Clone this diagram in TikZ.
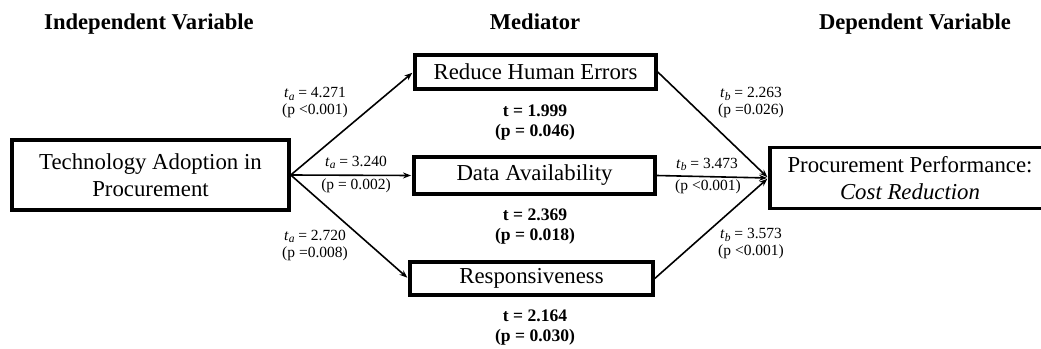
\documentclass[tikz,border=0pt]{standalone}
\usepackage{fontspec}
\setmainfont{Liberation Serif}
\usetikzlibrary{arrows.meta}
\newcommand{\tsb}[1]{\textit{t}\raisebox{-0.3ex}{\fontsize{11.5}{12}\selectfont\textit{#1}}}
\begin{document}
\begin{tikzpicture}[x=1pt,y=-1pt,
 box/.style={draw,line width=3.5pt,inner sep=0pt,align=center,font=\fontsize{22.8}{27}\selectfont},
 conn/.style={line width=1.6pt,-{Stealth[length=8pt,width=6pt]},shorten >=1.2pt},
 head/.style={font=\fontsize{22.6}{26}\selectfont\bfseries,inner sep=0pt,anchor=base},
 lab/.style={font=\fontsize{15.5}{17}\selectfont,align=center,inner sep=0pt},
 blab/.style={font=\fontsize{17.6}{20}\selectfont\bfseries,align=center,inner sep=0pt}]
\useasboundingbox (0,0) rectangle (1041,348);

\node[head] (h1) at (149,29) {Independent Variable};
\node[head] (h2) at (535,29) {Mediator};
\node[head] (h3) at (915,29) {Dependent Variable};

\node[box,minimum width=277pt,minimum height=70pt] (iv) at (150.5,175) {Technology Adoption in\\Procurement};
\node[box,minimum width=241pt,minimum height=34pt] (m1) at (535.5,72) {Reduce Human Errors};
\node[box,minimum width=241pt,minimum height=37pt] (m2) at (534.5,175.5) {Data Availability};
\node[box,minimum width=243pt,minimum height=33pt] (m3) at (531.5,278.5) {Responsiveness};
\node[box,minimum width=280pt,minimum height=61pt] (dv) at (910,178) {Procurement Performance:\\\textit{Cost Reduction}};

\draw[conn] (iv.east) -- (m1.west);
\draw[conn] (iv.east) -- (m2.west);
\draw[conn] (iv.east) -- (m3.west);
\draw[conn] (m1.east) -- (dv.west);
\draw[conn] (m2.east) -- (dv.west);
\draw[conn] (m3.east) -- (dv.west);

\node[lab] (a1) at (315,103) {\tsb{a} = 4.271\\(p <0.001)};
\node[lab] (a2t) at (356,162) {\tsb{a} = 3.240};
\node[lab] (a2p) at (356,186) {(p = 0.002)};
\node[lab] (a3) at (315,245) {\tsb{a} = 2.720\\(p =0.008)};
\node[lab] (b1) at (751,103) {\tsb{b} = 2.263\\(p =0.026)};
\node[lab] (b2t) at (707,164) {\tsb{b} = 3.473};
\node[lab] (b2p) at (708,187) {(p <0.001)};
\node[lab] (b3) at (751,244) {\tsb{b} = 3.573\\(p <0.001)};

\node[blab] (c1) at (535,123) {t = 1.999\\(p = 0.046)};
\node[blab] (c2) at (535,226.5) {t = 2.369\\(p = 0.018)};
\node[blab] (c3) at (535,327.5) {t = 2.164\\(p = 0.030)};
\end{tikzpicture}
\end{document}
